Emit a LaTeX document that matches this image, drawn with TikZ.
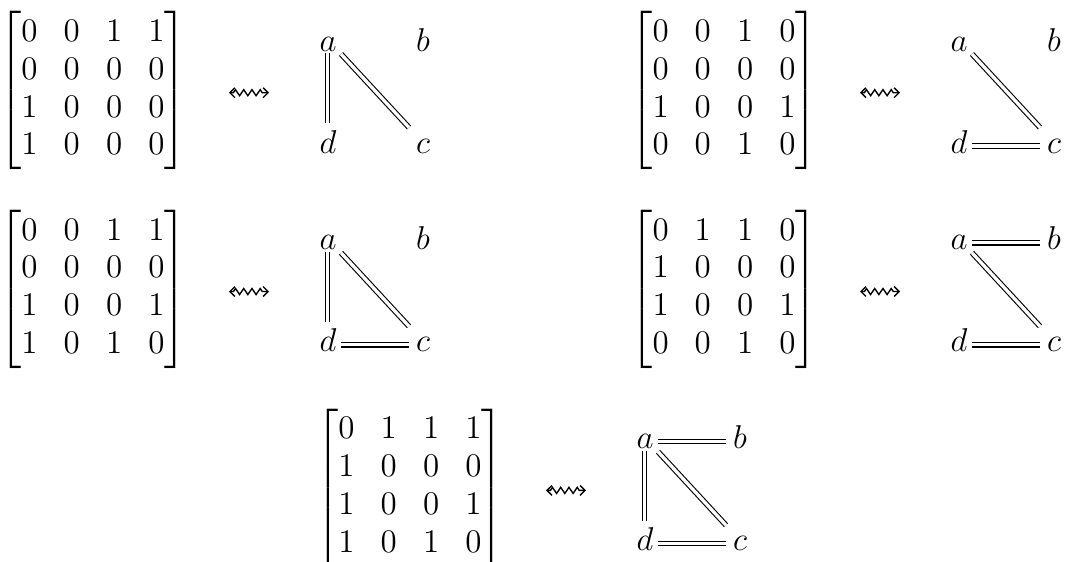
\documentclass[tikz,border=0pt]{standalone}
\usepackage{amsmath}
\usetikzlibrary{decorations.pathmorphing,arrows.meta,calc}
\newcommand\adjmat[1]{{\fontsize{12}{14.4}\selectfont\renewcommand\arraystretch{0.957}\setlength\arraycolsep{4.75pt}\delimitershortfall=-1pt$\begin{bmatrix}#1\end{bmatrix}$}}
\tikzset{
  vtx/.style={anchor=base, inner sep=0pt, text height=8pt, text depth=2pt, font=\fontsize{12}{14.4}\selectfont},
  eq/.style={double, double distance=1.2pt, line width=0.4pt},
  mat/.style={inner sep=0pt},
  sq/.style={{Straight Barb[length=1.8pt,width=3.6pt]}-{Straight Barb[length=1.8pt,width=3.6pt]},
    line width=0.5pt, decorate,
    decoration={zigzag, amplitude=1.1pt, segment length=3pt, pre length=1.6pt, post length=1.6pt}},
}
\begin{document}
\begin{tikzpicture}[x=0.3636pt, y=-0.3636pt]
\useasboundingbox (0,0) rectangle (1066,561);

% ---------- block 1 (top left)
\begin{scope}[shift={(0,0)}]
\node[mat] (m1) at (93,90.5) {\adjmat{0&0&1&1\\0&0&0&0\\1&0&0&0\\1&0&0&0}};
\coordinate (l1) at (229,92.7); \coordinate (r1) at (269,92.7);
\draw[sq] (l1) -- (r1);
\node[vtx] (a1) at (328,51) {$a$};
\node[vtx] (b1) at (423,51) {$b$};
\node[vtx] (d1) at (328,153) {$d$};
\node[vtx] (c1) at (423,153) {$c$};
\draw[eq] ($(a1.base)+(-0.5,2)$) -- ($(d1.base)+(-0.5,-30)$);
\draw[eq] ($(a1.base)+(13,3)$) -- ($(c1.base)+(-14,-25.5)$);
\end{scope}

% ---------- block 2 (top right)
\begin{scope}[shift={(631,0)}]
\node[mat] (m2) at (93,90.5) {\adjmat{0&0&1&0\\0&0&0&0\\1&0&0&1\\0&0&1&0}};
\coordinate (l2) at (229,92.7); \coordinate (r2) at (269,92.7);
\draw[sq] (l2) -- (r2);
\node[vtx] (a2) at (328,51) {$a$};
\node[vtx] (b2) at (423,51) {$b$};
\node[vtx] (d2) at (328,153) {$d$};
\node[vtx] (c2) at (423,153) {$c$};
\draw[eq] ($(a2.base)+(13,3)$) -- ($(c2.base)+(-14,-25.5)$);
\draw[eq] ($(d2.base)+(13,-7)$) -- ($(c2.base)+(-14,-7)$);
\end{scope}

% ---------- block 3 (middle left)
\begin{scope}[shift={(0,198.8)}]
\node[mat] (m3) at (93,90.5) {\adjmat{0&0&1&1\\0&0&0&0\\1&0&0&1\\1&0&1&0}};
\coordinate (l3) at (229,92.7); \coordinate (r3) at (269,92.7);
\draw[sq] (l3) -- (r3);
\node[vtx] (a3) at (328,51) {$a$};
\node[vtx] (b3) at (423,51) {$b$};
\node[vtx] (d3) at (328,153) {$d$};
\node[vtx] (c3) at (423,153) {$c$};
\draw[eq] ($(a3.base)+(-0.5,2)$) -- ($(d3.base)+(-0.5,-30)$);
\draw[eq] ($(a3.base)+(13,3)$) -- ($(c3.base)+(-14,-25.5)$);
\draw[eq] ($(d3.base)+(13,-7)$) -- ($(c3.base)+(-14,-7)$);
\end{scope}

% ---------- block 4 (middle right)
\begin{scope}[shift={(631,198.8)}]
\node[mat] (m4) at (93,90.5) {\adjmat{0&1&1&0\\1&0&0&0\\1&0&0&1\\0&0&1&0}};
\coordinate (l4) at (229,92.7); \coordinate (r4) at (269,92.7);
\draw[sq] (l4) -- (r4);
\node[vtx] (a4) at (328,51) {$a$};
\node[vtx] (b4) at (423,51) {$b$};
\node[vtx] (d4) at (328,153) {$d$};
\node[vtx] (c4) at (423,153) {$c$};
\draw[eq] ($(a4.base)+(13,-7)$) -- ($(b4.base)+(-14,-7)$);
\draw[eq] ($(a4.base)+(13,3)$) -- ($(c4.base)+(-14,-25.5)$);
\draw[eq] ($(d4.base)+(13,-7)$) -- ($(c4.base)+(-14,-7)$);
\end{scope}

% ---------- block 5 (bottom)
\begin{scope}[shift={(317,397.7)}]
\node[mat] (m5) at (93,90.5) {\adjmat{0&1&1&1\\1&0&0&0\\1&0&0&1\\1&0&1&0}};
\coordinate (l5) at (229,92.7); \coordinate (r5) at (269,92.7);
\draw[sq] (l5) -- (r5);
\node[vtx] (a5) at (328,51) {$a$};
\node[vtx] (b5) at (423,51) {$b$};
\node[vtx] (d5) at (328,153) {$d$};
\node[vtx] (c5) at (423,153) {$c$};
\draw[eq] ($(a5.base)+(13,-7)$) -- ($(b5.base)+(-14,-7)$);
\draw[eq] ($(a5.base)+(-0.5,2)$) -- ($(d5.base)+(-0.5,-30)$);
\draw[eq] ($(a5.base)+(13,3)$) -- ($(c5.base)+(-14,-25.5)$);
\draw[eq] ($(d5.base)+(13,-7)$) -- ($(c5.base)+(-14,-7)$);
\end{scope}
\end{tikzpicture}
\end{document}
